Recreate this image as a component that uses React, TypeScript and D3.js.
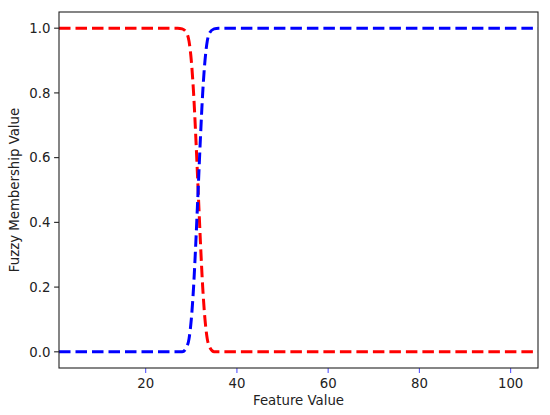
import React from "react";
import * as d3 from "d3";

// values
const redX = [1, 27, 28, 29, 29.5, 30, 30.5, 31, 31.5, 32, 32.5, 33, 33.5, 34, 35, 106];
const redY = [1, 1, 0.998, 0.985, 0.96, 0.9, 0.8, 0.66, 0.5, 0.34, 0.2, 0.1, 0.04, 0.015, 0, 0];
const blueX = [1, 28, 29, 29.5, 30, 30.5, 31, 31.5, 32, 32.5, 33, 33.5, 34, 35, 36, 106];
const blueY = [0, 0, 0.015, 0.04, 0.1, 0.2, 0.34, 0.5, 0.66, 0.8, 0.9, 0.96, 0.985, 0.998, 1, 1];
const xTicks = [20, 40, 60, 80, 100];
const yTicks = [0, 0.2, 0.4, 0.6, 0.8, 1.0];

const W = 550;
const H = 415;
const left = 59;
const right = 538;
const top = 12;
const bottom = 368;
const font = "DejaVu Sans, sans-serif";

export default function App() {
  const x = d3.scaleLinear().domain([1, 106]).range([left, right]);
  const y = d3.scaleLinear().domain([-0.05, 1.05]).range([bottom, top]);
  const line = d3
    .line<[number, number]>()
    .x((d) => x(d[0]))
    .y((d) => y(d[1]))
    .curve(d3.curveMonotoneX);
  const red = redX.map((v, i) => [v, redY[i]] as [number, number]);
  const blue = blueX.map((v, i) => [v, blueY[i]] as [number, number]);

  return (
    <svg
      width={W}
      height={H}
      style={{ position: "absolute", left: 0, top: 0, background: "#fff" }}
      fontFamily={font}
    >
      <defs>
        <clipPath id="plot">
          <rect x={left} y={top} width={right - left} height={bottom - top} />
        </clipPath>
      </defs>
      <g clipPath="url(#plot)">
        <path d={line(red) ?? ""} fill="none" stroke="#ff0000" strokeWidth={3} strokeDasharray="11.5 5" />
        <path d={line(blue) ?? ""} fill="none" stroke="#0000ff" strokeWidth={3} strokeDasharray="11.5 5" />
      </g>
      {xTicks.map((t) => (
        <g key={"x" + t}>
          <line x1={x(t)} x2={x(t)} y1={bottom} y2={bottom + 4.9} stroke="#5555ff" strokeWidth={1.1} />
          <text x={x(t)} y={bottom + 19.5} fontSize={13.3} textAnchor="middle" fill="#222">
            {t}
          </text>
        </g>
      ))}
      {yTicks.map((t) => (
        <g key={"y" + t}>
          <line x1={left - 4.9} x2={left} y1={y(t)} y2={y(t)} stroke="#222" strokeWidth={1.1} />
          <text x={left - 8.5} y={y(t) + 4.7} fontSize={13.3} textAnchor="end" fill="#222">
            {t.toFixed(1)}
          </text>
        </g>
      ))}
      <rect
        x={left}
        y={top}
        width={right - left}
        height={bottom - top}
        fill="none"
        stroke="#222"
        strokeWidth={1.1}
      />
      <text x={(left + right) / 2} y={405} fontSize={13.3} textAnchor="middle" fill="#222">
        Feature Value
      </text>
      <text
        transform={`translate(19,${(top + bottom) / 2}) rotate(-90)`}
        fontSize={13.3}
        textAnchor="middle"
        fill="#222"
      >
        Fuzzy Membership Value
      </text>
    </svg>
  );
}
